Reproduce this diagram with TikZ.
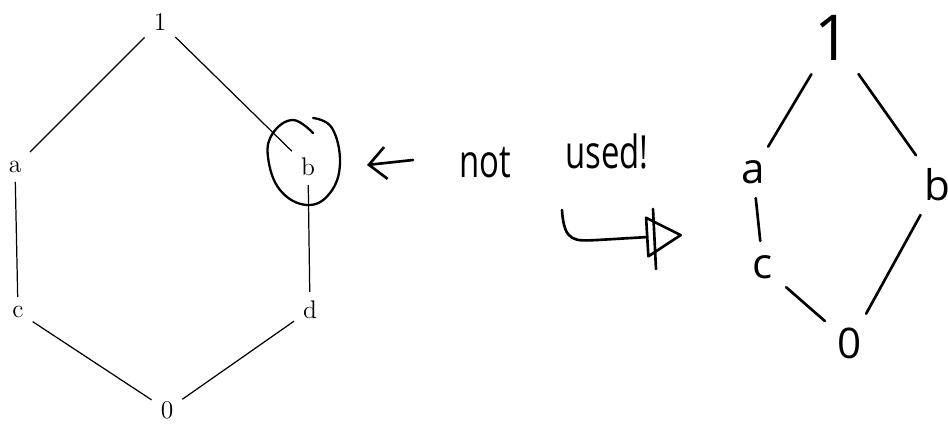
\documentclass[tikz,border=0pt]{standalone}
\usepackage{fontspec}
\newfontfamily\handfont{Open Sans}
\usetikzlibrary{arrows.meta,positioning}

\begin{document}
\begin{tikzpicture}[
    latnode/.style={
        inner sep=5pt,
        font=\fontsize{14.5}{17}\selectfont
    },
    handnode/.style={
        inner sep=5pt,
        font=\handfont\fontsize{24}{26}\selectfont
    },
    link/.style={
        line width=0.7pt
    },
    handlink/.style={
        line width=1.5pt,
        line cap=round,
        shorten <=3pt,
        shorten >=3pt
    },
    ring/.style={
        line width=1.3pt,
        line cap=round
    },
    note/.style={
        font=\handfont\fontsize{26}{28}\selectfont,
        inner sep=0pt,
        xscale=0.72
    },
    pointer/.style={
        -{Straight Barb[length=3.4mm,width=6.4mm]},
        line width=1.5pt,
        line cap=round
    },
    hook/.style={
        -{Triangle[open,round,length=7.5mm,width=8.5mm]},
        line width=1.5pt,
        line cap=round
    }
]
\useasboundingbox (0,0) rectangle (18.96,8.56);

% LEFT LATTICE
\node[latnode] (top) at (3.20,8.12) {1};
\node[latnode] (a) at (0.30,5.22) {a};
\node[latnode] (b) at (6.16,5.22) {b};
\node[latnode] (c) at (0.36,2.32) {c};
\node[latnode] (d) at (6.20,2.36) {d};
\node[latnode] (bot) at (3.34,0.36) {0};

\draw[link] (top) -- (a);
\draw[link] (top) -- (b);
\draw[link] (a) -- (c);
\draw[link] (b) -- (d);
\draw[link] (c) -- (bot);
\draw[link] (d) -- (bot);

% CIRCLE ROUND b
\draw[ring, shift={(b.center)}] plot[smooth, tension=0.7] coordinates {
    (0.10,0.68) (-0.30,0.94) (-0.70,0.68) (-0.80,0.20) (-0.56,-0.46)
    (-0.02,-0.76) (0.44,-0.52) (0.64,0.08) (0.48,0.78) (0.10,0.98)
};

% NOTE
\coordinate (tail) at (8.26,5.36);
\coordinate (aim) at (7.34,5.26);
\draw[pointer] (tail) -- (aim);

\node[note, anchor=base] (not) at (9.70,5.02) {not};
\node[note, anchor=base west] (used) at (11.30,5.20) {used!};

\coordinate (hookstart) at (11.24,4.36);
\coordinate (hooktip) at (13.64,3.86);
\draw[hook] (hookstart) .. controls (11.28,3.70) and (11.50,3.74) .. (11.95,3.76) -- (hooktip);
\draw[handlink, shorten <=0pt, shorten >=0pt] (hooktip) ++(-0.58,0.52) -- ++(0.06,-1.20);

% RIGHT LATTICE
\node[handnode, font=\handfont\fontsize{36}{38}\selectfont] (top2) at (16.66,7.80) {1};
\node[handnode] (a2) at (15.06,5.12) {a};
\node[handnode] (b2) at (18.74,4.86) {b};
\node[handnode] (c2) at (15.26,3.22) {c};
\node[handnode] (bot2) at (17.00,1.70) {0};

\draw[handlink] (top2) -- (a2);
\draw[handlink] (top2) -- (b2);
\draw[handlink] (a2) -- (c2);
\draw[handlink] (c2) -- (bot2);
\draw[handlink] (b2) -- (bot2);

\end{tikzpicture}
\end{document}
